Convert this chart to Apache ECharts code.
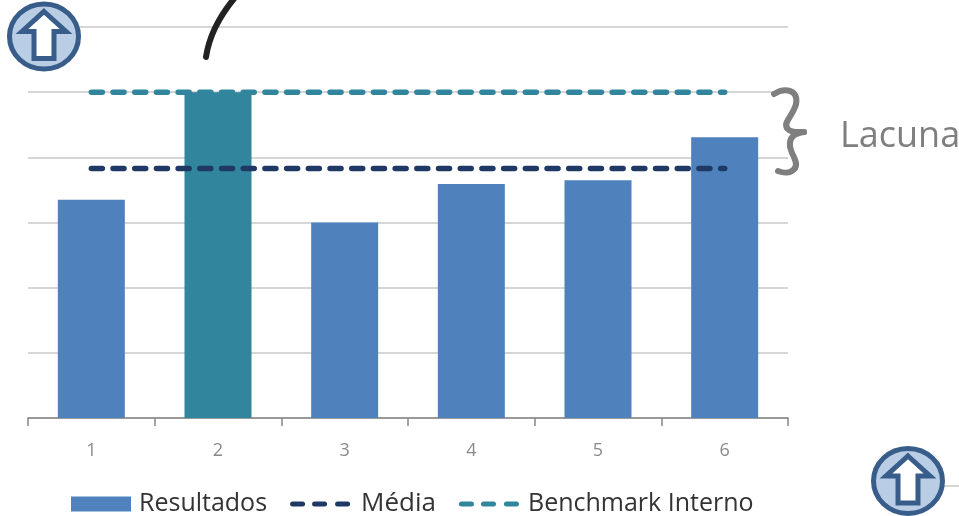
<!DOCTYPE html>
<html>
<head>
<meta charset="utf-8">
<style>html,body{margin:0;padding:0;background:#fff}#c{width:959px;height:516px}</style>
<script src="https://cdn.jsdelivr.net/npm/echarts@6/dist/echarts.min.js"></script>
</head>
<body>
<div id="c"></div>
<script>
const categories = ['1', '2', '3', '4', '5', '6'];
const resultados = [3.35, 5.0, 3.0, 3.59, 3.65, 4.31];
const media = [3.83, 3.83, 3.83, 3.83, 3.83, 3.83];
const benchmark = [5.0, 5.0, 5.0, 5.0, 5.0, 5.0];
const destaque = 1;

const azul = '#4f81bd', teal = '#31859c', marinho = '#1f3864';

// Legend key for the dashed lines: three rounded dashes
const dashKey = 'path://' + [0, 22, 45].map(x =>
  `M${x + 2.5} 0H${x + 12.5}A2.5 2.5 0 0 1 ${x + 12.5} 5H${x + 2.5}A2.5 2.5 0 0 1 ${x + 2.5} 0Z`
).join('');

// Round badge with an upward arrow, centred on (cx, cy)
function badge(cx, cy) {
  const arrow = [[0,-25],[22,-5],[10,-5],[10,22],[-10,22],[-10,-5],[-22,-5]]
    .map(p => [cx + p[0], cy + p[1]]);
  return [
    { type: 'ellipse', shape: { cx, cy, rx: 34.5, ry: 32.5 }, style: { fill: '#b9cde5', stroke: '#385d8a', lineWidth: 5 }, z: 20 },
    { type: 'polygon', shape: { points: arrow }, style: { fill: '#fff', stroke: '#385d8a', lineWidth: 5, lineJoin: 'miter' }, z: 21 }
  ];
}

// One cubic segment of a hand-drawn stroke
function curve(p, stroke, lineWidth) {
  return {
    type: 'bezierCurve',
    shape: { x1: p[0], y1: p[1], cpx1: p[2], cpy1: p[3], cpx2: p[4], cpy2: p[5], x2: p[6], y2: p[7] },
    style: { fill: null, stroke, lineWidth, lineCap: 'round' },
    z: 22
  };
}

const braceSegments = [
  [774, 94, 785, 87, 799, 90, 796, 104],
  [796, 104, 793, 116, 783, 122, 787, 128],
  [787, 128, 790, 133, 798, 132, 804, 132],
  [804, 132, 796, 133, 789, 136, 790, 146],
  [790, 146, 791, 155, 799, 162, 795, 168],
  [795, 168, 791, 174, 783, 173, 778, 171]
];

const chart = echarts.init(document.getElementById('c'), null, { renderer: 'canvas' });
chart.setOption({
  animation: false,
  backgroundColor: '#fff',
  grid: { left: 28, right: 171, top: 27, bottom: 98 },
  xAxis: {
    type: 'category',
    data: categories,
    axisLine: { lineStyle: { color: '#868686', width: 1.5 } },
    axisTick: { show: true, length: 8, alignWithLabel: false, lineStyle: { color: '#868686', width: 1.5 } },
    axisLabel: { color: '#8a8a8a', fontSize: 18, fontFamily: 'Open Sans', margin: 24 }
  },
  yAxis: {
    type: 'value', min: 0, max: 6, interval: 1,
    axisLine: { show: false }, axisTick: { show: false }, axisLabel: { show: false },
    splitLine: { lineStyle: { color: '#c8c8c8', width: 1.5 } }
  },
  legend: {
    left: 66, top: 486, itemWidth: 60, itemHeight: 15, itemGap: 23,
    textStyle: { color: '#333', fontSize: 25, fontFamily: 'Open Sans', padding: [0, 0, 0, 3] },
    data: [
      { name: 'Resultados', icon: 'rect' },
      { name: 'Média', icon: dashKey, textStyle: { fontSize: 26, padding: [0, 4, 0, 6] } },
      { name: 'Benchmark Interno', icon: dashKey, textStyle: { padding: [0, 0, 0, 4] } }
    ]
  },
  series: [
    {
      name: 'Resultados', type: 'bar', barWidth: 67, z: 2,
      itemStyle: { color: azul },
      data: resultados.map((v, i) => i === destaque ? { value: v, itemStyle: { color: teal } } : v)
    },
    {
      name: 'Média', type: 'line', data: media, symbol: 'none', z: 5,
      itemStyle: { color: marinho },
      lineStyle: { color: marinho, width: 5.5, type: [11, 10.7], cap: 'round' }
    },
    {
      name: 'Benchmark Interno', type: 'line', data: benchmark, symbol: 'none', z: 5,
      itemStyle: { color: teal },
      lineStyle: { color: teal, width: 5.5, type: [11, 10.7], cap: 'round' }
    }
  ],
  graphic: [
    ...badge(44, 36.5),
    ...badge(908, 481),
    // Short rule running off the right edge beside the lower badge
    { type: 'line', shape: { x1: 943, y1: 486, x2: 959, y2: 486 }, style: { stroke: '#c8c8c8', lineWidth: 1.5 }, z: 19 },
    // Pen stroke entering from the top edge
    curve([238, -6, 224, 10, 210, 30, 206, 57], '#222', 6),
    // Brace spanning the gap between the two reference lines
    ...braceSegments.map(s => curve(s, '#7f7f7f', 6)),
    { type: 'text', x: 840, y: 119, style: { text: 'Lacuna', fill: '#7f7f7f', fontSize: 36, fontFamily: 'Open Sans' }, z: 22 }
  ]
});
</script>
</body>
</html>
